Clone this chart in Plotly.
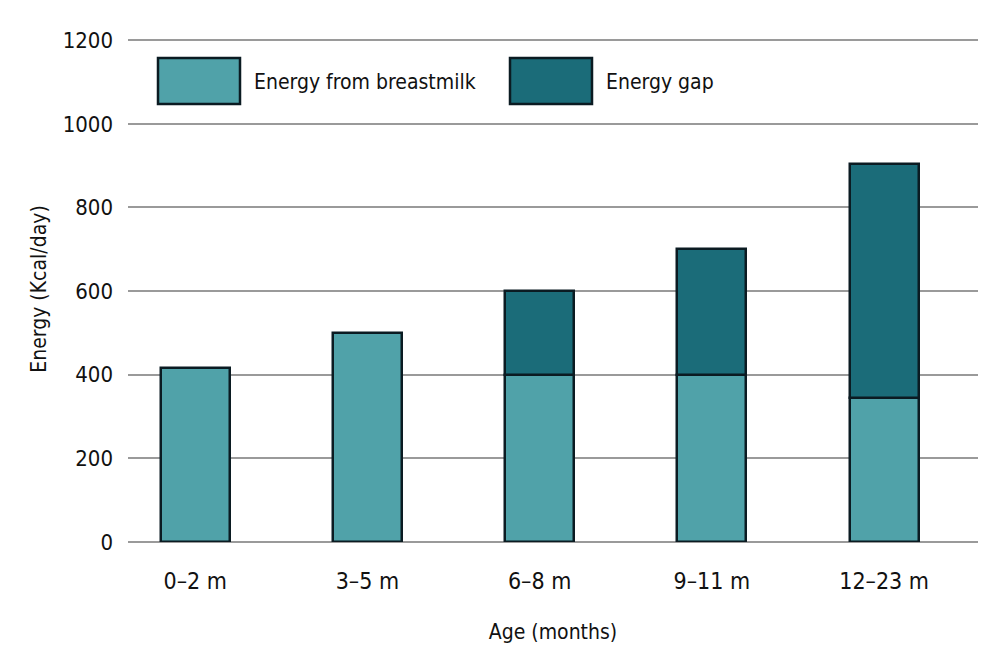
import plotly.graph_objects as go

# Age bands and daily energy values (kcal/day)
age_groups = ["0–2 m", "3–5 m", "6–8 m", "9–11 m", "12–23 m"]
breastmilk_energy = [415, 500, 400, 400, 345]
energy_gap = [0, 0, 200, 300, 560]
y_ticks = [0, 200, 400, 600, 800, 1000, 1200]

light_teal = "#50a2a9"
dark_teal = "#1b6c79"
edge = "#0b1b22"
text_color = "#111111"
font_family = "DejaVu Sans Condensed, Liberation Sans Narrow, sans-serif"

x_pos = list(range(len(age_groups)))

fig = go.Figure()
fig.add_trace(go.Bar(
    x=x_pos, y=breastmilk_energy, name="Energy from breastmilk",
    marker=dict(color=light_teal, line=dict(color=edge, width=2.5)),
    width=0.40, showlegend=False,
))
gap_x = [x for x, g in zip(x_pos, energy_gap) if g > 0]
gap_base = [b for b, g in zip(breastmilk_energy, energy_gap) if g > 0]
gap_vals = [g for g in energy_gap if g > 0]
fig.add_trace(go.Bar(
    x=gap_x, y=gap_vals, base=gap_base, name="Energy gap",
    marker=dict(color=dark_teal, line=dict(color=edge, width=2.5)),
    width=0.40, showlegend=False,
))

# Custom legend: large swatches with labels along the top of the plot
legend_items = [("Energy from breastmilk", light_teal, 158, 240),
                ("Energy gap", dark_teal, 510, 592)]
W, H = 981, 661
L, R, T, B = 128, 3, 36, 119
pw, ph = W - L - R, H - T - B
shapes = []
annotations = []
for label, color, x0, x1 in legend_items:
    shapes.append(dict(
        type="rect", xref="paper", yref="paper",
        x0=(x0 - L) / pw, x1=(x1 - L) / pw,
        y0=1 - (104 - T) / ph, y1=1 - (58 - T) / ph,
        fillcolor=color, line=dict(color=edge, width=2.5), layer="above",
    ))
    annotations.append(dict(
        xref="paper", yref="paper", x=(x1 + 12 - L) / pw, y=1 - (82 - T) / ph,
        text=label, showarrow=False, xanchor="left", yanchor="middle",
        font=dict(family=font_family, size=21, color=text_color),
    ))

fig.update_layout(
    width=W, height=H,
    margin=dict(l=L, r=R, t=T, b=B, pad=0),
    paper_bgcolor="white", plot_bgcolor="white",
    barmode="overlay", bargap=0,
    font=dict(family=font_family, size=22, color=text_color),
    shapes=shapes, annotations=annotations,
    xaxis=dict(
        tickmode="array", tickvals=x_pos, ticktext=age_groups,
        range=[-0.39, 4.545], showgrid=False, zeroline=False,
        showline=False, ticks="", ticklabelstandoff=23,
        tickfont=dict(size=23),
        title=dict(text="Age (months)", standoff=31,
                   font=dict(family=font_family, size=21)),
    ),
    yaxis=dict(
        range=[0, 1210], tickvals=y_ticks,
        showgrid=True, gridcolor="#9a9a9a", gridwidth=2,
        zeroline=True, zerolinecolor="#9a9a9a", zerolinewidth=2,
        showline=False, ticks="", ticklabelstandoff=14,
        tickfont=dict(size=22),
        title=dict(text="Energy (Kcal/day)", standoff=10,
                   font=dict(family=font_family, size=21)),
    ),
)

fig.write_html("out.html")
